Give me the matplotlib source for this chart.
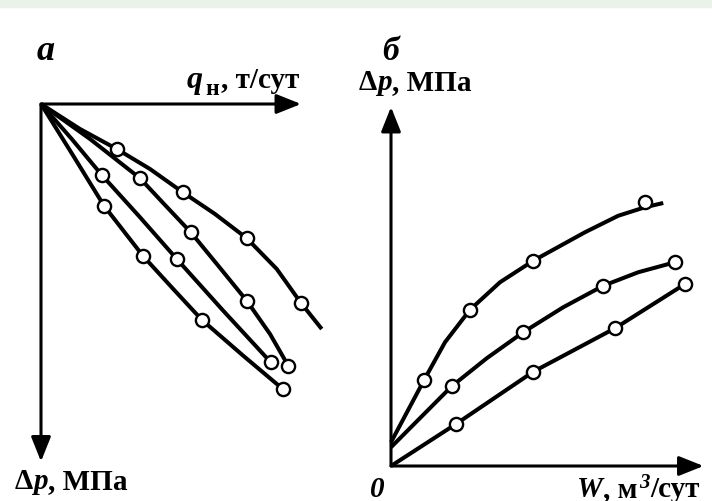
import numpy as np
import matplotlib.pyplot as plt
from matplotlib.patches import Rectangle

plt.rcParams['font.family'] = ['Liberation Serif', 'DejaVu Serif']

W_PX, H_PX = 712, 502

# --- panel a: oil rate q_n (right) vs pressure drop dp (down), arbitrary units
# traced curves
a_curve1_q = [0.0, 1.56, 3.03, 4.36, 5.67, 6.96, 8.23, 9.43, 10.40, 11.23]
a_curve1_dp = [0.0, 1.00, 1.80, 2.60, 3.53, 4.40, 5.37, 6.60, 7.96, 9.00]
a_curve2_q = [0.0, 1.96, 3.96, 4.96, 5.99, 7.09, 8.23, 9.16, 9.89]
a_curve2_dp = [0.0, 1.40, 2.97, 4.04, 5.13, 6.47, 7.87, 9.20, 10.47]
a_curve3_q = [0.0, 1.23, 2.43, 3.96, 5.43, 7.29, 9.19]
a_curve3_dp = [0.0, 1.40, 2.84, 4.53, 6.20, 8.27, 10.33]
a_curve4_q = [0.0, 1.29, 2.52, 4.09, 5.29, 6.43, 8.09, 9.67]
a_curve4_dp = [0.0, 2.07, 4.07, 6.09, 7.40, 8.63, 10.07, 11.40]

# measured points (open circles)
a_pts1_q = [3.03, 5.67, 8.23, 10.40]
a_pts1_dp = [1.80, 3.53, 5.37, 7.96]
a_pts2_q = [3.96, 5.99, 8.23, 9.89]
a_pts2_dp = [2.97, 5.13, 7.87, 10.47]
a_pts3_q = [2.43, 5.43, 9.19]
a_pts3_dp = [2.84, 6.20, 10.33]
a_pts4_q = [2.52, 4.09, 6.43, 9.67]
a_pts4_dp = [4.07, 6.09, 8.63, 11.40]

# --- panel b: water rate W vs pressure drop dp, arbitrary units
b_curve1_w = [0.0, 1.33, 2.16, 3.16, 4.36, 5.69, 7.76, 9.09, 10.16, 10.89]
b_curve1_dp = [0.95, 3.45, 4.95, 6.25, 7.35, 8.21, 9.35, 10.01, 10.35, 10.52]
b_curve2_w = [0.0, 2.43, 3.83, 5.29, 6.89, 8.49, 9.89, 11.36]
b_curve2_dp = [0.75, 3.19, 4.31, 5.35, 6.35, 7.21, 7.75, 8.15]
b_curve3_w = [0.0, 2.60, 5.69, 8.96, 11.76]
b_curve3_dp = [0.0, 1.68, 3.77, 5.51, 7.28]

b_pts1_w = [1.33, 3.16, 5.69, 10.16]
b_pts1_dp = [3.45, 6.25, 8.21, 10.55]
b_pts2_w = [2.43, 5.29, 8.49, 11.36]
b_pts2_dp = [3.19, 5.35, 7.21, 8.15]
b_pts3_w = [2.60, 5.69, 8.96, 11.76]
b_pts3_dp = [1.68, 3.77, 5.51, 7.28]


def px(x, y):
    return x / W_PX, 1 - y / H_PX


fig = plt.figure(figsize=(7.12, 5.02), dpi=100)
fig.patches.append(Rectangle((0, 1 - 8 / H_PX), 1, 8 / H_PX, transform=fig.transFigure,
                             color='#eaf3ea', zorder=0))

line_kw = dict(color='black', lw=2.9, solid_capstyle='butt', solid_joinstyle='round', clip_on=False)
mark_kw = dict(ls='none', marker='o', ms=9.5, mfc='white', mec='black', mew=1.7, clip_on=False, zorder=5)
arrow_kw = dict(arrowstyle='-|>,head_length=0.75,head_width=0.3', lw=2.2, color='black',
                shrinkA=0, shrinkB=0, mutation_scale=20)

# left panel
axL = fig.add_axes([41 / W_PX, 1 - 480 / H_PX, 300 / W_PX, 375 / H_PX])
axL.set_xlim(0, 12)
axL.set_ylim(15, 0)
axL.axis('off')
axL.annotate('', xy=(10.4, 0), xytext=(0, 0), arrowprops=arrow_kw)
axL.annotate('', xy=(0, 14.3), xytext=(0, 0), arrowprops=arrow_kw)
for q, dp in [(a_curve1_q, a_curve1_dp), (a_curve2_q, a_curve2_dp),
              (a_curve3_q, a_curve3_dp), (a_curve4_q, a_curve4_dp)]:
    axL.plot(q, dp, **line_kw)
for q, dp in [(a_pts1_q, a_pts1_dp), (a_pts2_q, a_pts2_dp),
              (a_pts3_q, a_pts3_dp), (a_pts4_q, a_pts4_dp)]:
    axL.plot(q, dp, **mark_kw)

# right panel
axR = fig.add_axes([391 / W_PX, 35 / H_PX, 321 / W_PX, 367 / H_PX])
axR.set_xlim(0, 12.84)
axR.set_ylim(0, 14.68)
axR.axis('off')
axR.annotate('', xy=(12.5, 0), xytext=(0, 0), arrowprops=arrow_kw)
axR.annotate('', xy=(0, 14.36), xytext=(0, 0), arrowprops=arrow_kw)
for w, dp in [(b_curve1_w, b_curve1_dp), (b_curve2_w, b_curve2_dp), (b_curve3_w, b_curve3_dp)]:
    axR.plot(w, dp, **line_kw)
for w, dp in [(b_pts1_w, b_pts1_dp), (b_pts2_w, b_pts2_dp), (b_pts3_w, b_pts3_dp)]:
    axR.plot(w, dp, **mark_kw)

# labels, composed piece by piece (italic symbols, sub/superscripts)
renderer = fig.canvas.get_renderer()


def label(x0, y0, pieces):
    x = x0
    for s, size, italic, dy in pieces:
        t = fig.text(*px(x, y0 + dy), s, fontsize=size, fontweight='bold',
                     style='italic' if italic else 'normal')
        x += t.get_window_extent(renderer).width


fs = 21
label(37, 60, [('a', 26, True, 0)])
label(187, 88, [('q', fs + 2, True, 0), (' ', 6, False, 0), ('н', fs - 4, False, 7),
                (' ', 5, False, 0), (', т/сут', fs, False, 0)])
label(15, 489, [('Δ', fs, False, 0), ('p', fs, True, 0), (', МПа', fs, False, 0)])

label(382, 60, [('б', 24, True, 0)])
label(359, 90, [('Δ', fs, False, 0), ('p', fs, True, 0), (', МПа', fs, False, 0)])
label(370, 497, [('0', fs, True, 0)])
label(577, 497, [('W', fs, True, 0), (', м', fs, False, 0), (' ', 6, False, 0),
                 ('3', fs - 6, True, -9), ('/сут', fs, False, 0)])

fig.savefig('out.png', dpi=100)
